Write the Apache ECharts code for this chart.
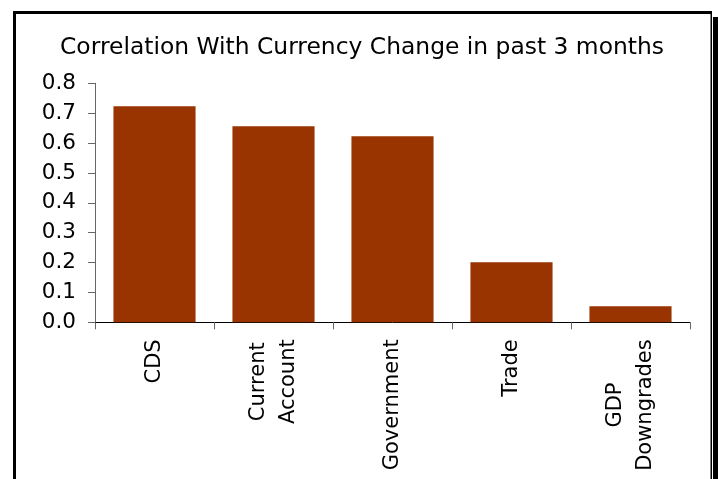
<!DOCTYPE html>
<html>
<head>
<meta charset="utf-8">
<title>Correlation With Currency Change</title>
<script src="https://cdn.jsdelivr.net/npm/echarts@6/dist/echarts.min.js"></script>
<style>
  html, body { margin: 0; padding: 0; background: #ffffff; }
  #chart { width: 718px; height: 479px; }
</style>
</head>
<body>
<div id="chart"></div>
<script>
// Factor names and their correlation with the 3-month currency move
const categories = ['CDS', 'Current\nAccount', 'Government', 'Trade', 'GDP\nDowngrades'];
const correlations = [0.723, 0.656, 0.623, 0.201, 0.054];
const yTickLabels = ['0.0', '0.1', '0.2', '0.3', '0.4', '0.5', '0.6', '0.7', '0.8'];

const FONT = '"DejaVu Sans", Verdana, sans-serif';
const chart = echarts.init(document.getElementById('chart'), null, { renderer: 'canvas' });

chart.setOption({
  backgroundColor: '#ffffff',
  animation: false,
  title: {
    text: 'Correlation With Currency Change in past 3 months',
    left: 357,
    textAlign: 'center',
    top: 31,
    textStyle: { fontFamily: FONT, fontSize: 23.4, fontWeight: 'normal', color: '#000' }
  },
  graphic: [
    // frame around the chart area, with a drop shadow on the right
    { type: 'rect', shape: { x: 13, y: 11, width: 699, height: 3 }, style: { fill: '#000' } },
    { type: 'rect', shape: { x: 13, y: 11, width: 3, height: 470 }, style: { fill: '#000' } },
    { type: 'rect', shape: { x: 710.5, y: 11, width: 1.5, height: 470 }, style: { fill: '#000' } },
    { type: 'rect', shape: { x: 713, y: 17, width: 5, height: 462 }, style: { fill: '#000' } }
  ],
  grid: { left: 95, right: 28, top: 83.3, bottom: 156.7, containLabel: false },
  xAxis: {
    type: 'category',
    data: categories,
    boundaryGap: true,
    axisLine: { lineStyle: { color: '#000', width: 1 } },
    axisTick: { show: true, length: 7, lineStyle: { color: '#666' } },
    axisLabel: {
      rotate: 90,
      margin: 17,
      interval: 0,
      formatter: v => v.split('\n').map(s => '{c|' + s + '}').join('\n'),
      rich: {
        c: { align: 'center', fontFamily: FONT, fontSize: 21, lineHeight: 30, color: '#000' }
      }
    }
  },
  yAxis: {
    type: 'value',
    min: 0,
    max: 0.8,
    interval: 0.1,
    splitLine: { show: false },
    axisLine: { show: true, lineStyle: { color: '#666', width: 1 } },
    axisTick: { show: true, length: 7, lineStyle: { color: '#666' } },
    axisLabel: {
      margin: 19,
      fontFamily: FONT,
      fontSize: 21.5,
      color: '#000',
      formatter: (v) => yTickLabels[Math.round(v * 10)]
    }
  },
  series: [{
    type: 'bar',
    data: correlations,
    barCategoryGap: '31%',
    itemStyle: { color: '#993300' }
  }]
});
</script>
</body>
</html>
